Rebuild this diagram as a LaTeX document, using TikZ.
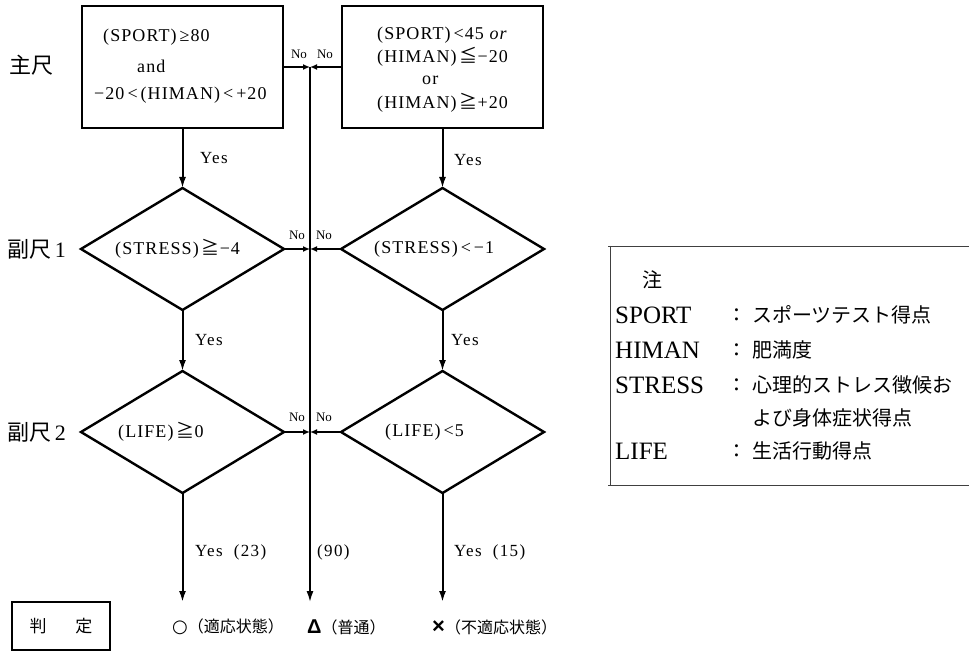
\documentclass[tikz,border=0pt]{standalone}
\usepackage{fontspec}
\setmainfont{Liberation Serif}
\newfontfamily\jp{Noto Sans CJK JP}
\newfontfamily\lsans{Liberation Sans}
\newfontfamily\dvs{DejaVu Sans}
\usetikzlibrary{arrows.meta,shapes.geometric}
\begin{document}
\begin{tikzpicture}[x=1pt,y=-1pt,
  boxn/.style={draw,line width=2.6pt,minimum width=201pt,minimum height=122pt,inner sep=0pt,outer sep=0pt},
  dia/.style={draw,line width=2.4pt,shape=diamond,aspect=1.664,minimum width=203pt,minimum height=122pt,inner sep=0pt,outer sep=0pt},
  txt/.style={font=\fontsize{18}{20}\selectfont\addfontfeature{LetterSpace=6},anchor=west,inner sep=0pt},
  nolab/.style={font=\fontsize{13}{14}\selectfont,inner sep=0pt},
  yeslab/.style={font=\fontsize{17}{18}\selectfont\addfontfeature{LetterSpace=8},anchor=west,inner sep=0pt},
  sidelab/.style={font=\fontsize{22}{24}\selectfont,anchor=west,inner sep=0pt},
  reslab/.style={font=\jp\fontsize{16}{18}\selectfont,anchor=west,inner sep=0pt},
  legname/.style={font=\fontsize{25}{27}\selectfont,anchor=west,inner sep=0pt},
  legjp/.style={font=\jp\fontsize{20}{22}\selectfont,anchor=west,inner sep=0pt},
  yarr/.style={line width=2pt,-{Latex[length=11pt,width=7pt]}},
  noarr/.style={line width=2.6pt,-{Latex[length=7pt,width=6pt]}},
  legline/.style={line width=0.9pt,draw=black!75}
]
\useasboundingbox (0,0) rectangle (969,652);

% boxes
\node[boxn] (b1) at (182.5,67) {};
\node[boxn] (b2) at (442.5,67) {};
\node[txt] (b1l1) at (103,37) {(SPORT)\,≥80};
\node[txt] (b1l2) at (137,66) {and};
\node[txt] (b1l3) at (94,95) {−20\,<\,(HIMAN)\,<\,+20};
\node[txt] (b2l1) at (377,35) {(SPORT)\,<45 \textit{or}};
\node[txt] (b2l2) at (377,57) {(HIMAN)\,{\jp ≦}−20};
\node[txt] (b2l3) at (422,80) {or};
\node[txt] (b2l4) at (377,103) {(HIMAN)\,{\jp ≧}+20};

% diamonds
\node[dia] (d1) at (182.5,249) {};
\node[dia] (d2) at (442.5,249) {};
\node[dia] (d3) at (182.5,432) {};
\node[dia] (d4) at (442.5,432) {};
\node[txt] (d1t) at (115,249) {(STRESS)\,{\jp ≧}−4};
\node[txt] (d2t) at (374,249) {(STRESS)\,<\,−1};
\node[txt] (d3t) at (118,432) {(LIFE)\,{\jp ≧}0};
\node[txt] (d4t) at (385,432) {(LIFE)\,<5};

% side labels
\node[sidelab] (s0) at (9,65) {\jp 主尺};
\node[sidelab] (s1) at (7,249) {{\jp 副尺}\,1};
\node[sidelab] (s2) at (7,432) {{\jp 副尺}\,2};

% centre line
\coordinate (c0) at (310,67);
\coordinate (c1) at (310,249);
\coordinate (c2) at (310,432);
\coordinate (cend) at (310,602);
\draw[line width=1.6pt,-{Latex[length=11pt,width=7pt]}] (c0) -- (cend);

% No connectors
\draw[noarr] (b1.east) -- (c0);
\draw[noarr] (b2.west) -- (c0);
\draw[noarr] (d1.east) -- (c1);
\draw[noarr] (d2.west) -- (c1);
\draw[noarr] (d3.east) -- (c2);
\draw[noarr] (d4.west) -- (c2);
\node[nolab] (n1) at (299,54) {No};
\node[nolab] (n2) at (325,54) {No};
\node[nolab] (n3) at (297,235) {No};
\node[nolab] (n4) at (324,235) {No};
\node[nolab] (n5) at (297,417) {No};
\node[nolab] (n6) at (324,417) {No};

% Yes connectors
\draw[yarr] (b1.south) -- (d1.north);
\draw[yarr] (b2.south) -- (d2.north);
\draw[yarr] (d1.south) -- (d3.north);
\draw[yarr] (d2.south) -- (d4.north);
\coordinate (e1) at (182.5,602);
\coordinate (e2) at (442.5,602);
\draw[yarr] (d3.south) -- (e1);
\draw[yarr] (d4.south) -- (e2);
\node[yeslab] (y1) at (200,158) {Yes};
\node[yeslab] (y2) at (454,160) {Yes};
\node[yeslab] (y3) at (195,340) {Yes};
\node[yeslab] (y4) at (451,340) {Yes};
\node[yeslab] (y5) at (195,552) {Yes\ \ (23)};
\node[yeslab] (y6) at (317,552) {(90)};
\node[yeslab] (y7) at (454,552) {Yes\ \ (15)};

% results
\node[draw,line width=2.2pt,minimum width=98pt,minimum height=48pt,inner sep=0pt,font=\jp\fontsize{17}{18}\selectfont] (hantei) at (61,626) {判\hspace{1.7em}定};
\node[reslab] (r1) at (172,627) {{\dvs\bfseries\fontsize{18}{20}\selectfont ○}（適応状態）};
\node[reslab] (r2) at (307,627) {{\lsans\bfseries\fontsize{20}{22}\selectfont Δ}（普通）};
\node[reslab] (r3) at (432,627) {{\lsans\bfseries\fontsize{22}{22}\selectfont ×}（不適応状態）};

% legend
\draw[legline] (608,246) -- (969,246);
\draw[legline] (610,246) -- (610,485);
\draw[legline] (608,485) -- (969,485);
\node[legjp] (lnote) at (642,280) {注};
\node[legname] (l1) at (615,315) {SPORT};
\node[legname] (l2) at (615,350) {HIMAN};
\node[legname] (l3) at (615,385) {STRESS};
\node[legname] (l4) at (615,451) {LIFE};
\node[legname] (k1) at (733,315) {:};
\node[legname] (k2) at (733,350) {:};
\node[legname] (k3) at (733,385) {:};
\node[legname] (k4) at (733,451) {:};
\node[legjp] (j1) at (752,315) {スポーツテスト得点};
\node[legjp] (j2) at (752,350) {肥満度};
\node[legjp] (j3) at (752,385) {心理的ストレス徴候お};
\node[legjp] (j3b) at (752,418) {よび身体症状得点};
\node[legjp] (j4) at (752,451) {生活行動得点};
\end{tikzpicture}
\end{document}
